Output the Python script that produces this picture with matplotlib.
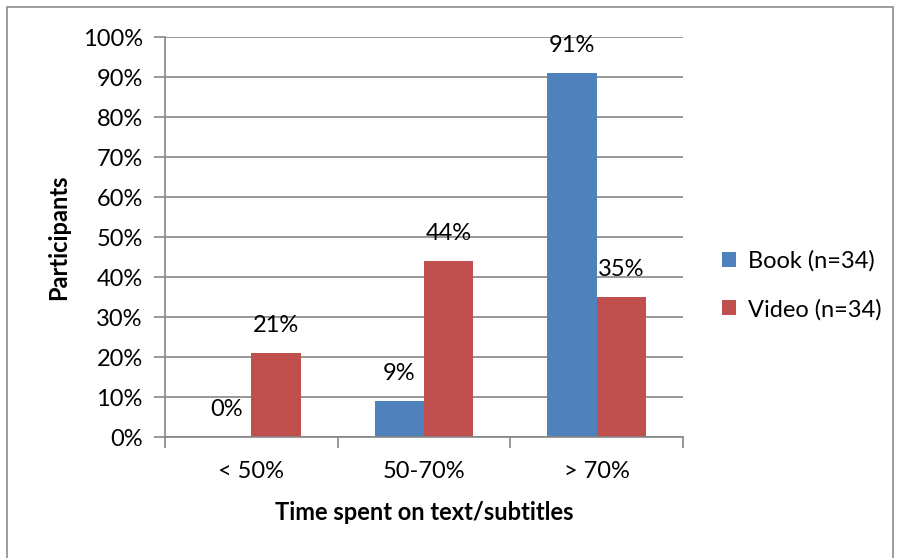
import numpy as np
import matplotlib.pyplot as plt
from matplotlib.patches import Rectangle
from matplotlib.ticker import PercentFormatter

categories = ['< 50%', '50-70%', '> 70%']
book = [0, 9, 91]
video = [21, 44, 35]
series_names = ['Book (n=34)', 'Video (n=34)']

plt.rcParams['font.family'] = ['Lato', 'DejaVu Sans']
fs = 17

fig = plt.figure(figsize=(8.99, 5.58), dpi=100)
ax = fig.add_axes([165 / 899, 1 - 437 / 558, 518 / 899, 400 / 558])

# outer chart frame
fig.patches.append(Rectangle((7 / 899, -0.1), 886 / 899, 1.1 - 7 / 558,
                             transform=fig.transFigure, fill=False,
                             edgecolor='#8c8c8c', linewidth=1.2))

x = np.arange(len(categories))
w = 1 / 3.5
b1 = ax.bar(x - w / 2, book, w, color='#4F81BD', label=series_names[0])
b2 = ax.bar(x + w / 2, video, w, color='#C0504D', label=series_names[1])

for bars, vals in ((b1, book), (b2, video)):
    for r, v in zip(bars, vals):
        ax.annotate(f'{v}%', (r.get_x() + r.get_width() / 2, v),
                    xytext=(0, 20), textcoords='offset points',
                    ha='center', va='center', fontsize=fs)

ax.set_xlim(-0.5, 2.5)
ax.set_ylim(0, 100)
ax.set_yticks(np.arange(0, 101, 10))
ax.yaxis.set_major_formatter(PercentFormatter(decimals=0))
ax.grid(axis='y', color='#868686', linewidth=1.2)
ax.set_axisbelow(True)

ax.set_xticks(x)
ax.set_xticklabels(categories)
ax.set_xticks([-0.5, 0.5, 1.5, 2.5], minor=True)
ax.tick_params(axis='x', which='major', length=0, pad=17, labelsize=fs)
ax.tick_params(axis='x', which='minor', length=8, width=1.2, color='#868686', direction='out')
ax.tick_params(axis='y', length=8, width=1.2, color='#868686', labelsize=fs, pad=8)

for s in ['top', 'right']:
    ax.spines[s].set_visible(False)
for s in ['left', 'bottom']:
    ax.spines[s].set_color('#868686')
    ax.spines[s].set_linewidth(1.2)

ax.set_ylabel('Participants', fontsize=fs, fontweight='bold', labelpad=9)
ax.set_xlabel('Time spent on text/subtitles', fontsize=fs, fontweight='bold', labelpad=14)

ax.legend(loc='center left', bbox_to_anchor=(1.075, 0.38), frameon=False,
          fontsize=fs, handlelength=0.6, handleheight=0.6, handletextpad=0.5,
          labelspacing=1.15, borderpad=0, borderaxespad=0)

fig.savefig('out.png', dpi=100)
